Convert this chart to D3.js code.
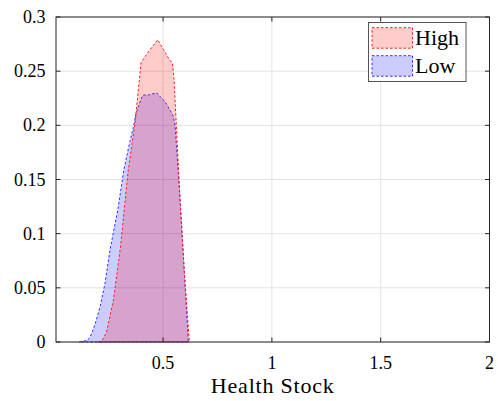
<!DOCTYPE html>
<html>
<head>
<meta charset="utf-8">
<script src="https://cdn.jsdelivr.net/npm/d3@7"></script>
<style>
  html, body { margin: 0; padding: 0; background: #fff; }
  svg { display: block; }
</style>
</head>
<body>
<svg id="chart" width="498" height="401"></svg>
<script>
// Distribution of health stock by group
const highX = [0.203, 0.219, 0.240, 0.272, 0.304, 0.339, 0.371, 0.399, 0.433, 0.456, 0.475, 0.502, 0.525, 0.543, 0.550, 0.578, 0.596, 0.621];
const highY = [0, 0.001, 0.009, 0.039, 0.087, 0.157, 0.202, 0.258, 0.268, 0.274, 0.279, 0.270, 0.262, 0.257, 0.244, 0.131, 0.069, 0];

const lowX = [0.115, 0.150, 0.164, 0.187, 0.210, 0.233, 0.256, 0.292, 0.320, 0.341, 0.363, 0.376, 0.402, 0.409, 0.432, 0.471, 0.489, 0.509, 0.532, 0.546, 0.555, 0.578, 0.596, 0.616];
const lowY = [0, 0.0014, 0.004, 0.016, 0.032, 0.054, 0.085, 0.122, 0.159, 0.179, 0.198, 0.211, 0.226, 0.228, 0.228, 0.230, 0.226, 0.222, 0.214, 0.209, 0.200, 0.133, 0.071, 0];

const xTicks = [0.5, 1, 1.5, 2];
const xTickLabels = ["0.5", "1", "1.5", "2"];
const yTicks = [0, 0.05, 0.1, 0.15, 0.2, 0.25, 0.3];
const yTickLabels = ["0", "0.05", "0.1", "0.15", "0.2", "0.25", "0.3"];

const seriesNames = ["High", "Low"];
const xLabel = "Health Stock";

const plotL = 56, plotR = 489.5, plotT = 17, plotB = 342;
const FONT = "Liberation Serif";

const x = d3.scaleLinear().domain([0.008, 2]).range([plotL, plotR]);
const y = d3.scaleLinear().domain([0, 0.3]).range([plotB, plotT]);

const svg = d3.select("#chart");
const axisColor = "#262626";
const gridColor = "#e3e3e3";

// grid
const grid = svg.append("g");
grid.selectAll("line.gx").data(xTicks).enter().append("line")
  .attr("x1", d => x(d)).attr("x2", d => x(d))
  .attr("y1", plotT).attr("y2", plotB)
  .attr("stroke", gridColor).attr("stroke-width", 1);
grid.selectAll("line.gy").data(yTicks).enter().append("line")
  .attr("x1", plotL).attr("x2", plotR)
  .attr("y1", d => y(d)).attr("y2", d => y(d))
  .attr("stroke", gridColor).attr("stroke-width", 1);

// areas
const area = d3.area().x(d => x(d[0])).y0(y(0)).y1(d => y(d[1]));
const lowData = lowX.map((v, i) => [v, lowY[i]]);
const highData = highX.map((v, i) => [v, highY[i]]);

const styles = {
  High: { fill: "rgba(255,0,0,0.2)", stroke: "#ff2020" },
  Low: { fill: "rgba(0,0,255,0.2)", stroke: "#3030ff" }
};
const dash = "2.5,2";

svg.append("path").datum(lowData).attr("d", area)
  .attr("fill", styles.Low.fill).attr("stroke", styles.Low.stroke)
  .attr("stroke-width", 1).attr("stroke-dasharray", dash);
svg.append("path").datum(highData).attr("d", area)
  .attr("fill", styles.High.fill).attr("stroke", styles.High.stroke)
  .attr("stroke-width", 1).attr("stroke-dasharray", dash);

// axes box
const ax = svg.append("g");
ax.append("rect").attr("x", plotL).attr("y", plotT)
  .attr("width", plotR - plotL).attr("height", plotB - plotT)
  .attr("fill", "none").attr("stroke", axisColor).attr("stroke-width", 1);

const tl = 4.5;
xTicks.forEach(t => {
  ax.append("line").attr("x1", x(t)).attr("x2", x(t)).attr("y1", plotB).attr("y2", plotB - tl)
    .attr("stroke", axisColor);
  ax.append("line").attr("x1", x(t)).attr("x2", x(t)).attr("y1", plotT).attr("y2", plotT + tl)
    .attr("stroke", axisColor);
});
yTicks.forEach(t => {
  ax.append("line").attr("x1", plotL).attr("x2", plotL + tl).attr("y1", y(t)).attr("y2", y(t))
    .attr("stroke", axisColor);
  ax.append("line").attr("x1", plotR).attr("x2", plotR - tl).attr("y1", y(t)).attr("y2", y(t))
    .attr("stroke", axisColor);
});

// tick labels
ax.selectAll("text.xt").data(xTicks).enter().append("text")
  .attr("font-family", FONT)
  .attr("x", d => x(d)).attr("y", 368.5)
  .attr("text-anchor", "middle").attr("font-size", 18)
  .attr("fill", "#000")
  .text((d, i) => xTickLabels[i]);
ax.selectAll("text.yt").data(yTicks).enter().append("text")
  .attr("font-family", FONT)
  .attr("x", 45.5).attr("y", d => y(d) + 6)
  .attr("text-anchor", "end").attr("font-size", 18)
  .attr("fill", "#000")
  .text((d, i) => yTickLabels[i]);

// axis label
svg.append("text").attr("x", (plotL + plotR) / 2).attr("y", 393)
  .attr("font-family", FONT)
  .attr("text-anchor", "middle").attr("font-size", 22)
  .attr("letter-spacing", 0.8).attr("fill", "#000")
  .text(xLabel);

// legend
const lg = svg.append("g");
lg.append("rect").attr("x", 368.5).attr("y", 22.5).attr("width", 97.5).attr("height", 59)
  .attr("fill", "#fff").attr("stroke", "#555").attr("stroke-width", 1);
seriesNames.forEach((name, i) => {
  const yy = 27.7 + i * 28;
  lg.append("rect").attr("x", 372).attr("y", yy).attr("width", 40.5).attr("height", 20.5)
    .attr("fill", styles[name].fill).attr("stroke", styles[name].stroke)
    .attr("stroke-width", 1).attr("stroke-dasharray", dash);
  lg.append("text").attr("x", 415).attr("y", yy + 17.5)
    .attr("font-family", FONT).attr("fill", "#000")
    .attr("font-size", 22).text(name);
});
</script>
</body>
</html>
